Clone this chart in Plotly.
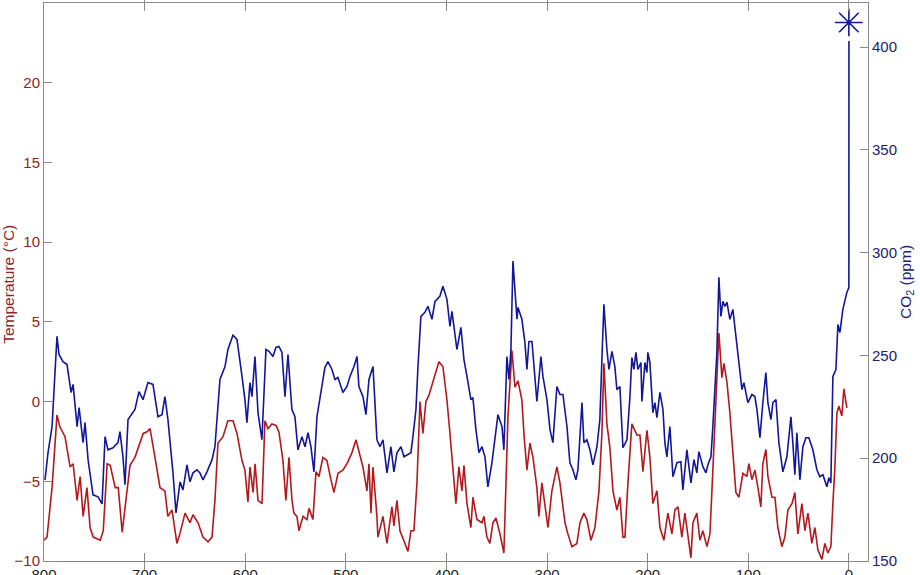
import plotly.graph_objects as go

# Temperature record (age in kyr before present, temperature anomaly in °C)
temp_age = [800.0, 797.0, 792.0, 787.1, 784.1, 779.1, 774.1, 771.1, 767.1, 764.1, 761.1, 757.3, 754.2, 751.1,
            744.1, 741.1, 737.2, 734.2, 729.2, 726.2, 722.3, 719.3, 714.5, 709.6, 704.4, 701.4, 697.6, 694.6,
            689.7, 684.7, 679.8, 676.9, 672.8, 667.9, 665.0, 659.8, 654.9, 651.9, 646.9, 642.0, 637.0, 633.0,
            630.1, 627.1, 622.1, 617.2, 612.2, 608.2, 603.2, 600.3, 597.3, 595.3, 592.2, 590.2, 587.3, 583.3,
            580.4, 577.4, 573.4, 569.4, 566.5, 562.5, 559.6, 556.5, 553.5, 551.6, 548.6, 546.6, 542.6, 538.6,
            536.6, 532.7, 529.7, 526.7, 522.8, 518.8, 514.8, 511.8, 507.8, 502.9, 498.9, 493.9, 489.9, 487.0,
            483.0, 479.0, 477.0, 475.0, 473.0, 469.1, 468.1, 463.1, 459.1, 454.2, 452.2, 449.2, 446.2, 441.2,
            438.3, 435.3, 432.3, 429.3, 426.3, 423.4, 420.4, 417.4, 413.4, 407.5, 403.5, 399.5, 396.5, 393.5,
            390.6, 387.6, 384.6, 382.6, 379.6, 375.7, 373.7, 369.7, 364.7, 362.7, 359.8, 356.8, 353.8, 350.8,
            346.8, 342.9, 338.9, 334.9, 331.9, 328.9, 325.0, 323.0, 320.0, 317.0, 314.0, 310.1, 308.1, 305.1,
            302.1, 299.1, 295.2, 290.2, 287.2, 282.2, 279.3, 275.3, 270.3, 267.3, 263.4, 260.4, 256.4, 252.4,
            248.4, 245.5, 243.5, 240.5, 237.5, 234.5, 230.6, 227.6, 224.6, 222.6, 219.6, 215.7, 210.7, 207.7,
            204.7, 200.7, 197.8, 194.8, 190.8, 187.8, 183.9, 179.9, 175.9, 172.9, 169.9, 166.0, 163.0, 160.0,
            157.0, 155.0, 151.1, 148.1, 145.1, 141.1, 138.1, 135.2, 131.2, 129.2, 126.2, 124.2, 121.2, 118.3,
            115.3, 112.3, 109.3, 105.3, 101.4, 99.4, 96.4, 93.4, 90.4, 87.5, 85.5, 82.5, 80.5, 76.5,
            73.5, 70.6, 66.6, 63.6, 60.6, 56.6, 53.7, 50.7, 46.7, 43.7, 40.7, 36.8, 33.8, 30.8,
            26.8, 23.9, 20.9, 17.9, 15.9, 13.9, 11.9, 9.9, 7.0, 5.0, 2.0]
temp_val = [-8.7, -8.5, -5.4, -0.85, -1.6, -2.2, -4.1, -3.9, -6.2, -4.7, -7.2, -5.4, -7.9, -8.5,
            -8.7, -8.1, -3.9, -4.0, -5.4, -5.4, -8.2, -6.6, -4.0, -3.5, -2.6, -2.0, -1.9, -1.7,
            -3.5, -5.4, -5.6, -7.2, -6.8, -8.9, -8.3, -7.0, -7.6, -7.1, -7.6, -8.5, -8.8, -8.5,
            -6.2, -2.6, -2.2, -1.2, -1.2, -2.0, -3.7, -4.3, -6.3, -4.1, -5.7, -3.9, -6.2, -6.4,
            -1.2, -1.7, -1.4, -1.5, -1.9, -3.7, -6.2, -3.5, -6.2, -7.0, -7.2, -8.1, -7.2, -7.4,
            -6.7, -7.4, -4.4, -4.7, -3.5, -3.7, -4.9, -5.7, -4.5, -4.3, -3.9, -3.2, -2.4, -3.2,
            -4.1, -5.6, -3.9, -7.0, -4.1, -7.2, -8.5, -7.2, -8.9, -6.6, -7.8, -6.2, -8.1, -8.9,
            -9.4, -8.1, -8.1, -5.1, 0.0, -2.0, 0.0, 0.4, 1.2, 2.5, 2.2, 0.1, -2.0, -4.1,
            -6.4, -4.1, -5.6, -4.0, -6.4, -7.9, -6.0, -7.4, -7.6, -7.2, -8.5, -8.9, -7.6, -7.3,
            -8.3, -9.5, -1.0, 3.2, 0.9, 1.3, 0.1, -2.0, -4.3, -2.6, -3.5, -5.4, -7.2, -5.1,
            -6.4, -7.9, -5.6, -4.1, -5.1, -7.6, -8.3, -9.1, -8.9, -7.6, -7.0, -7.4, -8.7, -7.9,
            -5.6, -2.0, 2.4, -1.4, -2.9, -5.6, -6.8, -6.0, -8.5, -8.5, -5.1, -1.4, -2.1, -2.1,
            -4.4, -1.8, -3.5, -6.4, -5.6, -7.9, -8.7, -7.0, -8.3, -6.8, -6.6, -8.5, -7.0, -8.3,
            -9.8, -7.6, -7.0, -8.7, -8.1, -9.1, -8.3, -4.3, 1.3, 4.3, 1.5, 2.4, 1.2, -0.7,
            -3.2, -5.7, -6.0, -4.5, -4.7, -3.9, -4.9, -4.3, -5.4, -6.6, -3.9, -3.0, -4.7, -6.0,
            -6.0, -7.9, -9.1, -8.5, -6.8, -6.4, -5.7, -8.3, -6.4, -8.1, -7.0, -8.9, -7.9, -9.3,
            -9.9, -8.9, -9.5, -9.1, -6.4, -4.1, -0.7, -0.3, -0.9, 0.8, -0.4]

# CO2 record (age in kyr before present, ppm)
co2_age = [799.0, 796.0, 792.0, 787.1, 785.1, 781.1, 777.1, 773.1, 771.1, 767.1, 765.1, 761.2, 759.2, 756.2,
           751.3, 746.3, 742.3, 739.3, 736.4, 731.4, 726.5, 724.5, 721.5, 719.5, 716.5, 713.5, 709.6, 705.6,
           701.6, 696.7, 691.7, 686.7, 682.7, 679.8, 676.8, 671.8, 668.8, 664.8, 661.9, 657.9, 654.9, 651.9,
           647.9, 645.0, 642.0, 638.0, 633.0, 630.1, 625.1, 620.1, 617.2, 612.2, 608.2, 603.2, 600.3, 598.3,
           595.3, 593.3, 590.3, 587.3, 583.4, 579.4, 576.4, 572.4, 569.5, 566.5, 563.5, 560.5, 557.5, 553.6,
           550.6, 547.6, 543.6, 540.6, 537.6, 534.7, 531.7, 528.7, 524.7, 520.8, 517.8, 513.8, 510.8, 507.8,
           502.9, 498.9, 495.9, 491.9, 488.9, 487.0, 483.0, 480.0, 477.0, 473.0, 469.1, 466.1, 463.1, 459.1,
           455.2, 452.2, 449.2, 445.2, 442.2, 439.3, 435.3, 433.3, 430.3, 428.3, 425.4, 421.4, 418.4, 414.4,
           411.4, 406.5, 403.5, 399.5, 396.5, 394.5, 392.5, 389.6, 385.6, 382.6, 379.6, 375.7, 373.7, 370.7,
           367.7, 364.7, 361.7, 358.8, 354.8, 351.8, 348.8, 344.8, 342.9, 339.9, 337.9, 335.9, 333.9, 329.9,
           328.9, 325.0, 322.0, 320.0, 318.0, 315.0, 312.1, 310.1, 306.1, 304.1, 300.1, 297.1, 294.2, 290.2,
           287.2, 284.2, 280.2, 277.3, 274.3, 271.3, 269.3, 267.3, 265.3, 263.4, 260.4, 257.4, 254.4, 250.4,
           247.5, 245.5, 243.5, 240.5, 238.5, 235.5, 232.6, 230.6, 227.6, 224.6, 220.6, 217.6, 215.7, 213.7,
           211.7, 209.7, 206.7, 205.7, 202.7, 200.7, 199.8, 197.8, 194.8, 192.8, 190.8, 187.8, 184.8, 182.9,
           180.9, 177.9, 174.9, 170.9, 167.0, 165.0, 161.0, 157.0, 154.0, 151.1, 149.1, 145.1, 142.1, 140.1,
           137.1, 135.2, 131.2, 129.2, 127.2, 125.2, 123.2, 121.2, 118.3, 115.3, 112.3, 109.3, 106.3, 104.3,
           102.4, 100.4, 96.4, 93.4, 91.4, 88.4, 85.5, 82.5, 80.5, 77.5, 75.5, 72.5, 69.6, 65.6,
           61.6, 57.6, 55.7, 53.7, 51.7, 48.7, 45.7, 42.7, 39.8, 35.8, 31.8, 28.8, 25.8, 21.9,
           19.9, 17.9, 15.9, 12.9, 10.9, 8.9, 6.0, 2.0, 0.0, -0.07]
co2_val = [189.5, 202.7, 215.4, 259.3, 250.5, 247.0, 245.6, 232.0, 235.9, 215.4, 224.6, 207.6, 217.3, 199.3,
           182.2, 181.2, 177.8, 210.5, 204.1, 205.1, 207.6, 212.9, 200.7, 187.1, 218.8, 221.2, 223.7, 232.4,
           228.5, 236.8, 235.9, 220.2, 221.2, 230.0, 218.8, 192.9, 173.4, 188.5, 184.6, 196.8, 188.5, 192.9,
           194.4, 192.9, 189.5, 193.4, 199.3, 205.6, 238.3, 244.6, 252.9, 259.8, 257.8, 239.8, 228.5, 217.3,
           236.8, 230.0, 249.5, 222.2, 209.0, 252.9, 252.0, 249.5, 253.9, 254.4, 251.5, 230.0, 250.5, 223.7,
           220.2, 204.1, 210.5, 205.6, 212.4, 205.6, 193.4, 220.2, 232.0, 244.1, 247.0, 243.2, 238.3, 239.3,
           232.0, 234.9, 239.8, 244.6, 249.5, 234.9, 230.0, 221.2, 238.3, 244.6, 209.0, 205.6, 209.0, 192.9,
           205.6, 193.4, 202.7, 205.6, 200.7, 201.7, 202.7, 210.5, 223.7, 244.6, 269.0, 271.0, 273.9, 267.6,
           276.3, 278.8, 283.7, 277.3, 264.1, 271.5, 262.7, 252.9, 263.7, 248.0, 239.8, 228.5, 229.5, 213.9,
           202.7, 205.6, 200.7, 186.1, 197.8, 210.5, 221.2, 215.4, 204.1, 249.5, 238.3, 252.9, 295.9, 267.6,
           273.4, 267.6, 256.3, 243.2, 256.8, 256.8, 239.8, 227.6, 249.5, 239.8, 228.5, 213.9, 207.6, 234.9,
           231.0, 231.0, 215.4, 197.8, 194.4, 189.5, 194.4, 209.0, 227.1, 207.6, 209.0, 204.1, 196.8, 205.6,
           218.8, 248.0, 274.9, 252.9, 243.2, 252.0, 244.6, 233.4, 234.9, 205.1, 209.0, 230.0, 249.0, 243.2,
           251.5, 243.2, 246.6, 227.6, 246.6, 241.7, 251.5, 246.6, 222.2, 227.1, 219.8, 232.0, 223.7, 207.6,
           200.7, 215.4, 191.0, 197.8, 198.3, 184.6, 204.1, 188.0, 199.3, 192.9, 203.2, 195.9, 192.9, 196.8,
           200.7, 215.4, 251.5, 288.0, 269.0, 276.3, 273.9, 275.9, 267.6, 272.4, 259.3, 248.0, 233.4, 236.8,
           232.0, 227.1, 231.0, 230.0, 223.7, 210.0, 227.1, 241.7, 227.1, 218.8, 227.1, 228.5, 207.6, 193.4,
           200.7, 220.2, 207.6, 192.0, 212.4, 189.5, 205.6, 210.0, 210.0, 204.1, 194.4, 191.0, 192.0, 186.1,
           190.5, 188.0, 239.8, 243.2, 265.1, 261.2, 272.4, 280.7, 283.0, 403.0]

# Present-day CO2 marker
now_age = [0.0]
now_co2 = [412.0]

x_ticks = [800, 700, 600, 500, 400, 300, 200, 100, 0]
temp_ticks = [-10, -5, 0, 5, 10, 15, 20, 25]
co2_ticks = [150, 200, 250, 300, 350, 400]

RED = "#B3191C"
BLUE = "#12179A"
RED_TXT = "#8E2424"
BLUE_TXT = "#1E2070"
AXIS = "#8A8A8A"
FONT = "Liberation Sans, Arial, sans-serif"

ML, MR, MT, MB = 44, 52, 3, 14
PW = 920 - ML - MR

fig = go.Figure()
fig.add_trace(go.Scatter(x=co2_age, y=co2_val, mode="lines", yaxis="y2",
                         line=dict(color=BLUE, width=1.6), showlegend=False))
fig.add_trace(go.Scatter(x=now_age, y=now_co2, mode="markers", yaxis="y2",
                         marker=dict(symbol="asterisk-open", size=23, color=BLUE,
                                     line=dict(color=BLUE, width=1.6)),
                         showlegend=False))
fig.add_trace(go.Scatter(x=temp_age, y=temp_val, mode="lines", yaxis="y",
                         line=dict(color=RED, width=1.6), showlegend=False))

fig.update_layout(
    width=920, height=575,
    margin=dict(l=ML, r=MR, t=MT, b=MB),
    paper_bgcolor="white", plot_bgcolor="white",
    font=dict(family=FONT, size=15),
    xaxis=dict(range=[800, -19], tickvals=x_ticks, ticktext=[str(v) for v in x_ticks],
               ticks="inside", ticklen=8, tickcolor=AXIS, showline=True, linecolor=AXIS,
               linewidth=1, mirror="allticks", showgrid=False, zeroline=False,
               automargin=False,
               tickfont=dict(color="#222222", size=15)),
    yaxis=dict(range=[-10, 25], tickvals=temp_ticks, ticks="inside", ticklen=8,
               tickcolor=AXIS, showline=True, linecolor=AXIS, linewidth=1,
               showgrid=False, zeroline=False, automargin=False,
               tickfont=dict(color=RED_TXT, size=15)),
    yaxis2=dict(range=[150, 421.5], tickvals=co2_ticks, overlaying="y", side="right",
                ticks="inside", ticklen=8, tickcolor=AXIS, showline=True, linecolor=AXIS,
                linewidth=1, showgrid=False, zeroline=False, automargin=False,
                tickfont=dict(color=BLUE_TXT, size=15)),
    annotations=[
        dict(text="Temperature (°C)", xref="paper", yref="paper", x=(9 - ML) / PW, y=0.495,
             xanchor="center", yanchor="middle", textangle=-90, showarrow=False,
             font=dict(family=FONT, size=15.5, color=RED_TXT)),
        dict(text="CO<sub>2</sub> (ppm)", xref="paper", yref="paper", x=(906 - ML) / PW, y=0.50,
             xanchor="center", yanchor="middle", textangle=-90, showarrow=False,
             font=dict(family=FONT, size=15.5, color=BLUE_TXT)),
    ],
)

fig.write_html("out.html", config={"displayModeBar": False},
               post_script="document.body.style.margin='0px';")
